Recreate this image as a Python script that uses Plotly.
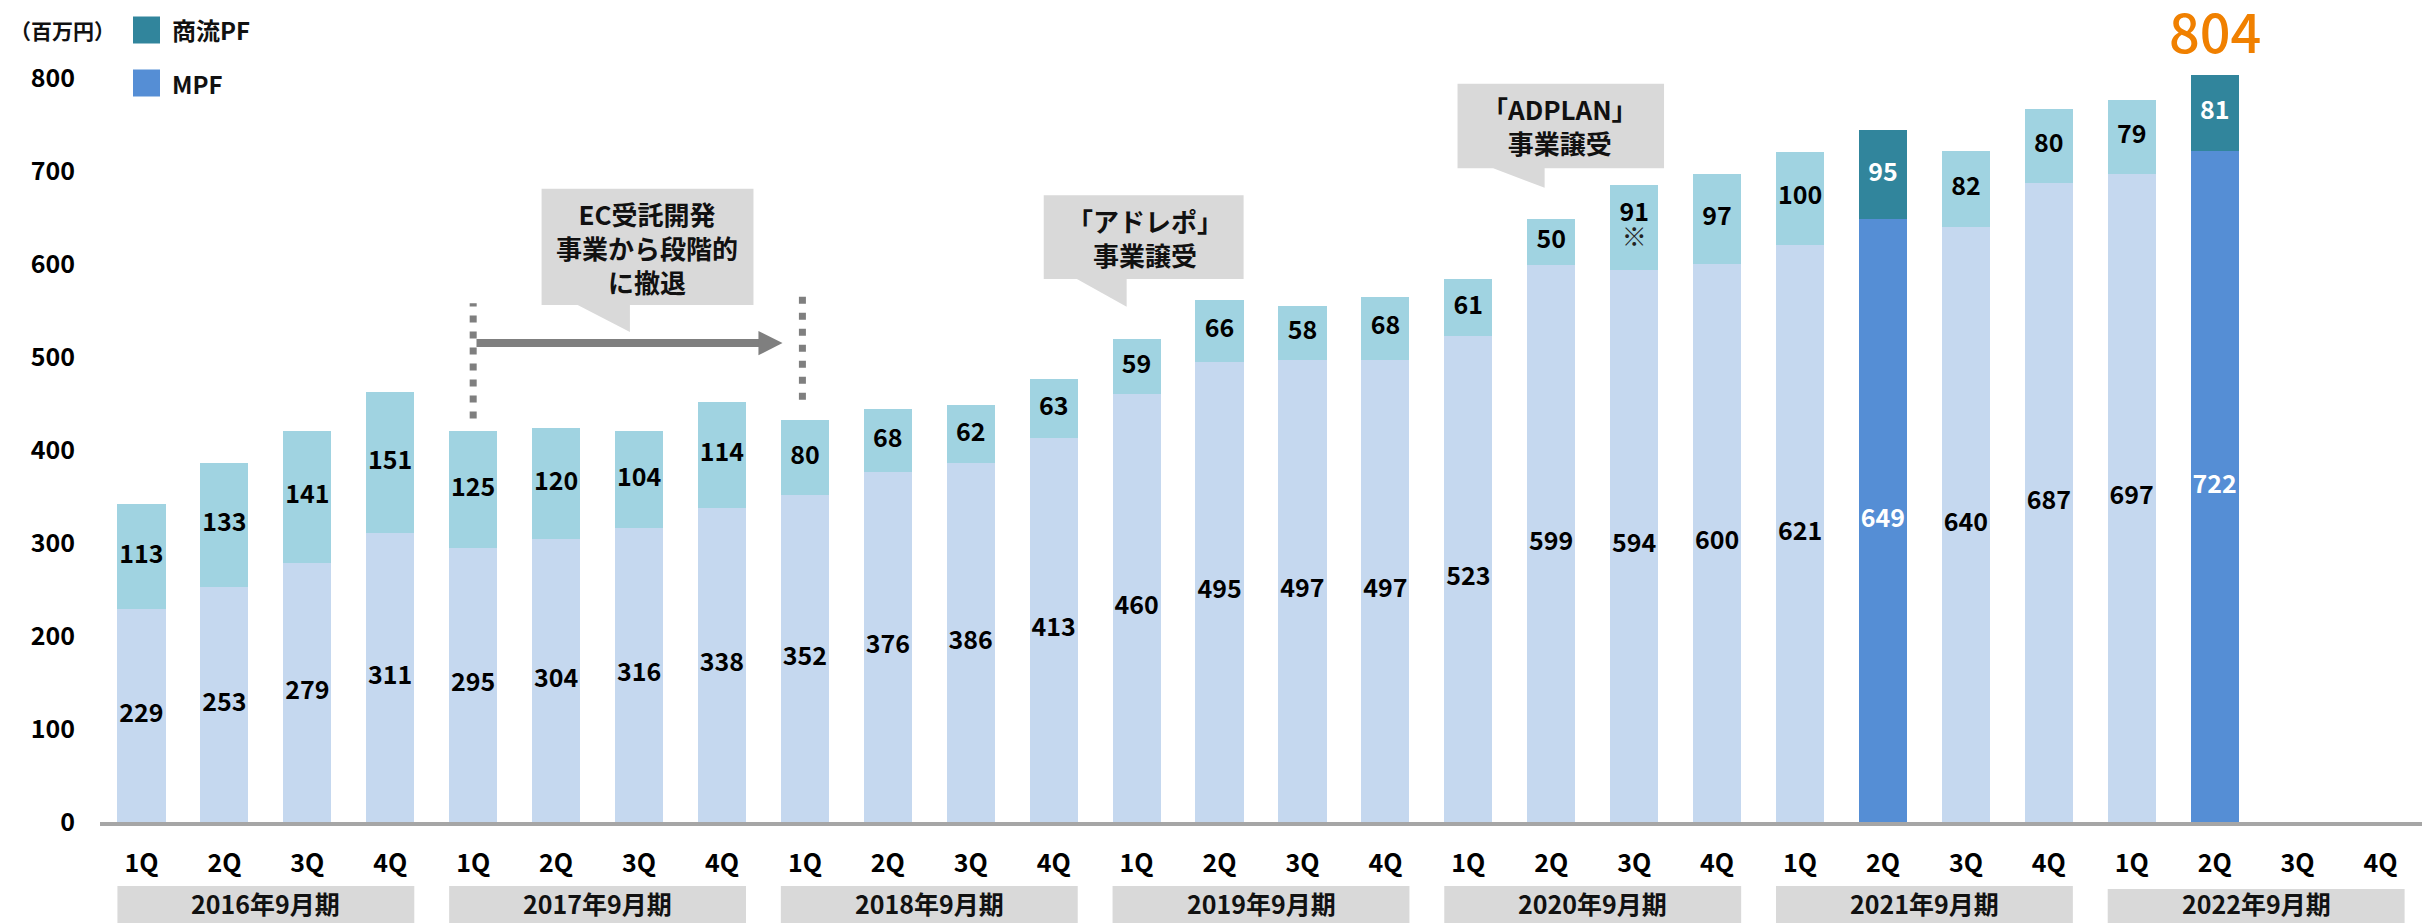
import plotly.graph_objects as go

# ---- data -------------------------------------------------------------
quarters = ["1Q", "2Q", "3Q", "4Q"] * 7
fiscal_years = ["2016年9月期", "2017年9月期", "2018年9月期", "2019年9月期",
                "2020年9月期", "2021年9月期", "2022年9月期"]

mpf = [229, 253, 279, 311, 295, 304, 316, 338, 352, 376, 386, 413, 460, 495,
       497, 497, 523, 599, 594, 600, 621, 649, 640, 687, 697, 722, None, None]
commerce_pf = [113, 133, 141, 151, 125, 120, 104, 114, 80, 68, 62, 63, 59, 66,
               58, 68, 61, 50, 91, 97, 100, 95, 82, 80, 79, 81, None, None]
commerce_notes = {18: "※"}          # footnote mark under the value
highlight_quarters = [21, 25]        # 2Q of each fiscal year, emphasised
latest_total = 804                   # reported total for 2022/9 2Q

y_ticks = [0, 100, 200, 300, 400, 500, 600, 700, 800]

# ---- styling ----------------------------------------------------------
FONT = "Noto Sans CJK JP"
MPF_LIGHT, MPF_DARK = "#C5D8EF", "#558ED5"
COM_LIGHT, COM_DARK = "#A0D3E1", "#31859C"
GREY_BOX = "#D9D9D9"
GREY_LINE = "#7F7F7F"
ORANGE = "#F08000"

W, H = 2430, 923
ML, MR, MT, MB = 100, 8, 0, 101
PLOT_H = H - MT - MB
Y_TOP = 884
BAR_FRAC = 0.58

idx = list(range(len(quarters)))


def pick(hi, lo, i):
    return hi if i in highlight_quarters else lo


def paper_y(py):
    """Vertical page pixel -> paper fraction of the plotting area."""
    return (PLOT_H - py) / PLOT_H


mpf_colors = [pick(MPF_DARK, MPF_LIGHT, i) for i in idx]
com_colors = [pick(COM_DARK, COM_LIGHT, i) for i in idx]

fig = go.Figure()
fig.add_bar(x=idx, y=mpf, marker=dict(color=mpf_colors, line=dict(width=0)),
            name="MPF", hoverinfo="skip")
fig.add_bar(x=idx, y=commerce_pf, marker=dict(color=com_colors, line=dict(width=0)),
            name="商流PF", hoverinfo="skip")

# value labels centred in each segment
lx, ly, lt, lc, lp = [], [], [], [], []
nx, ny, nt = [], [], []
for i in idx:
    m, c = mpf[i], commerce_pf[i]
    if m is None:
        continue
    col = pick("#FFFFFF", "#000000", i)
    lx.append(i); ly.append(m / 2); lt.append(str(m)); lc.append(col)
    lp.append("middle center")
    lx.append(i); ly.append(m + c / 2); lt.append(str(c)); lc.append(col)
    if i in commerce_notes:
        # value sits above the segment centre, footnote mark below it
        lp.append("top center")
        nx.append(i); ny.append(m + c / 2); nt.append(commerce_notes[i])
    else:
        lp.append("middle center")

fig.add_scatter(x=lx, y=ly, text=lt, mode="text",
                textfont=dict(family=FONT, size=25, color=lc, weight="bold"),
                textposition=lp, hoverinfo="skip", showlegend=False)
fig.add_scatter(x=nx, y=ny, text=nt, mode="text",
                textfont=dict(family=FONT, size=25, color="#222222"),
                textposition="bottom center", hoverinfo="skip", showlegend=False)

shapes, annotations = [], []


def callout(x0, x1, y_bottom, y_top, tail_a, tail_b, tip_y, text, tx, ty):
    path = (f"M {x0},{y_top} L {x1},{y_top} L {x1},{y_bottom} "
            f"L {tail_b},{y_bottom} L {tail_b},{tip_y} L {tail_a},{y_bottom} "
            f"L {x0},{y_bottom} Z")
    shapes.append(dict(type="path", xref="x", yref="y", path=path,
                       fillcolor=GREY_BOX, line=dict(width=0), layer="above"))
    annotations.append(dict(x=tx, y=ty, xref="x", yref="y", text=text,
                            showarrow=False, xanchor="center", yanchor="middle",
                            font=dict(family=FONT, size=26, color="#111111",
                                      weight="bold")))


callout(4.825, 7.38, 556, 681, 5.26, 5.89, 527,
        "EC受託開発<br>事業から段階的<br>に撤退", 6.1, 618)
callout(10.88, 13.29, 584, 674, 11.28, 11.88, 554,
        "「アドレポ」<br>事業譲受", 12.1, 629)
callout(15.87, 18.36, 703, 794, 16.30, 16.92, 682,
        "「ADPLAN」<br>事業譲受", 17.1, 749)

# phase-out period markers
for xv, ya, yb in [(4.0, 434, 558), (7.97, 454, 565)]:
    shapes.append(dict(type="line", xref="x", yref="y", x0=xv, x1=xv, y0=ya, y1=yb,
                       line=dict(color=GREY_LINE, width=7, dash="7px,9px")))
shapes.append(dict(type="line", xref="x", yref="y", x0=4.04, x1=7.45, y0=515, y1=515,
                   line=dict(color=GREY_LINE, width=8)))
shapes.append(dict(type="path", xref="x", yref="y",
                   path="M 7.44,528 L 7.73,515 L 7.44,502 Z",
                   fillcolor=GREY_LINE, line=dict(width=0)))

# fiscal-year bands under the quarter labels
for k, fy in enumerate(fiscal_years):
    top_px = 889 if k == len(fiscal_years) - 1 else 886
    shapes.append(dict(type="rect", xref="x", yref="paper",
                       x0=4 * k - 0.29, x1=4 * k + 3.29,
                       y0=paper_y(H + 2), y1=paper_y(top_px),
                       fillcolor=GREY_BOX, line=dict(width=0)))
    annotations.append(dict(x=4 * k + 1.5, y=paper_y(903), xref="x", yref="paper",
                            text=fy, showarrow=False, yanchor="middle",
                            font=dict(family=FONT, size=25, color="#111111",
                                      weight="bold")))

# total for the latest quarter
annotations.append(dict(x=25, y=paper_y(29), xref="x", yref="paper",
                        text=str(latest_total),
                        showarrow=False, xanchor="center", yanchor="middle",
                        font=dict(family=FONT, size=54, color=ORANGE, weight=500)))

# unit label and legend
annotations.append(dict(x=-0.5, y=paper_y(30), xref="x", yref="paper",
                        xshift=-92, text="（百万円）", showarrow=False,
                        xanchor="left", yanchor="middle",
                        font=dict(family=FONT, size=21, color="#111111",
                                  weight="bold")))
PW = W - ML - MR
for j, (name, col) in enumerate([("商流PF", COM_DARK), ("MPF", MPF_DARK)]):
    yc = 30 + 53 * j
    shapes.append(dict(type="rect", xref="paper", yref="paper",
                       x0=(133 - ML) / PW, x1=(160 - ML) / PW,
                       y0=paper_y(yc + 13.5), y1=paper_y(yc - 13.5),
                       fillcolor=col, line=dict(width=0)))
    annotations.append(dict(x=(170 - ML) / PW, y=paper_y(yc),
                            xref="paper", yref="paper", text=name, showarrow=False,
                            xanchor="left", yanchor="middle",
                            font=dict(family=FONT, size=24, color="#111111",
                                      weight="bold")))

fig.update_layout(
    width=W, height=H,
    margin=dict(l=ML, r=MR, t=MT, b=MB, pad=0),
    barmode="stack", bargap=1 - BAR_FRAC,
    plot_bgcolor="white", paper_bgcolor="white",
    showlegend=False,
    font=dict(family=FONT, color="#000000"),
    shapes=shapes, annotations=annotations,
    xaxis=dict(range=[-0.5, len(idx) - 0.5], tickmode="array", tickvals=idx,
               ticktext=quarters, showgrid=False, zeroline=False,
               showline=True, linecolor="#A6A6A6", linewidth=4, ticks="",
               ticklabelstandoff=16,
               tickfont=dict(family=FONT, size=25, color="#000000", weight="bold")),
    yaxis=dict(range=[0, Y_TOP], tickmode="array", tickvals=y_ticks,
               showgrid=False, zeroline=False, showline=False, ticks="",
               ticklabelstandoff=24,
               tickfont=dict(family=FONT, size=25, color="#000000", weight="bold")),
)

fig.write_html("out.html")
